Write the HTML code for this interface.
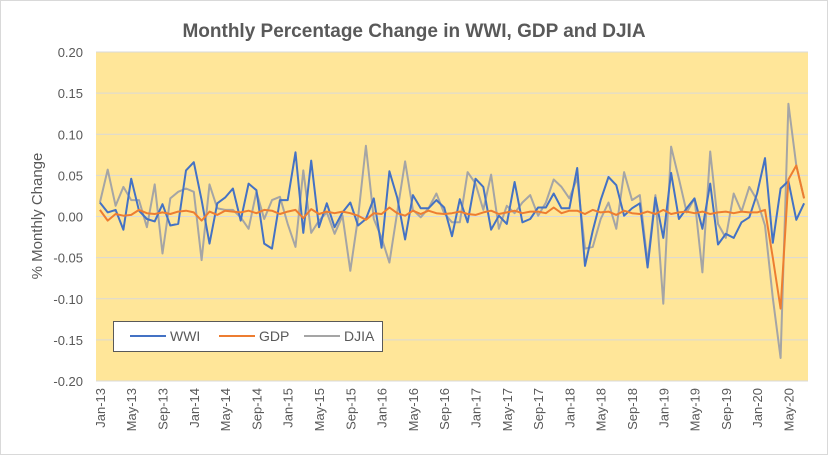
<!DOCTYPE html>
<html><head><meta charset="utf-8"><style>
body{margin:0;background:#fff;}
svg{display:block;font-family:"Liberation Sans",sans-serif;}
</style></head><body>
<svg id="chart" width="828" height="455">
<rect x="0.5" y="0.5" width="827" height="454" fill="#fff" stroke="#d9d9d9"/>
<text x="414" y="37" text-anchor="middle" font-size="19" font-weight="bold" fill="#595959">Monthly Percentage Change in WWI, GDP and DJIA</text>
<rect x="96" y="52" width="712" height="329" fill="#FFE699"/>
<g id="grid"></g><g id="yticks"></g><g id="xticks"></g><g id="series"></g>
<text transform="translate(42,216) rotate(-90)" text-anchor="middle" font-size="15" fill="#595959">% Monthly Change</text>
<g>
<rect x="113.5" y="321.5" width="269" height="30" fill="#fff" stroke="#595959"/>
<line x1="130" y1="336" x2="166" y2="336" stroke="#4472C4" stroke-width="2"/>
<text x="170" y="341" font-size="14" fill="#595959">WWI</text>
<line x1="219" y1="336" x2="255" y2="336" stroke="#ED7D31" stroke-width="2"/>
<text x="259" y="341" font-size="14" fill="#595959">GDP</text>
<line x1="304" y1="336" x2="340" y2="336" stroke="#A5A5A5" stroke-width="2"/>
<text x="344" y="341" font-size="14" fill="#595959">DJIA</text>
</g>
</svg>
<script>
const yTicks=[0.20,0.15,0.10,0.05,0.00,-0.05,-0.10,-0.15,-0.20];
const monthNames=["Jan","Feb","Mar","Apr","May","Jun","Jul","Aug","Sep","Oct","Nov","Dec"];
const wwi=[0.017,0.005,0.008,-0.016,0.046,0.007,-0.003,-0.006,0.015,-0.011,-0.009,0.056,0.066,0.02,-0.033,0.016,0.023,0.034,-0.005,0.040,0.032,-0.033,-0.039,0.020,0.020,0.078,-0.020,0.068,-0.013,0.016,-0.013,0.005,0.017,-0.011,-0.003,0.022,-0.038,0.055,0.023,-0.028,0.026,0.010,0.010,0.020,0.011,-0.024,0.021,-0.007,0.046,0.036,-0.016,0.001,-0.009,0.042,-0.007,-0.003,0.011,0.011,0.028,0.010,0.010,0.059,-0.060,-0.017,0.020,0.048,0.038,0.001,0.010,0.016,-0.062,0.023,-0.026,0.053,-0.003,0.010,0.022,-0.015,0.040,-0.034,-0.021,-0.026,-0.007,-0.001,0.028,0.071,-0.032,0.034,0.043,-0.004,0.016];
const gdp=[0.008,-0.005,0.003,0.001,0.002,0.008,0.004,0.003,0.005,0.003,0.006,0.007,0.005,-0.005,0.006,0.002,0.007,0.006,0.005,0.007,0.004,0.008,0.007,0.003,0.006,0.008,-0.002,0.009,0.003,0.006,0.004,0.006,0.004,0.001,-0.004,0.004,0.003,0.011,0.004,0.001,0.007,0.003,0.007,0.004,0.003,0.004,0.006,0.003,0.002,0.005,0.007,0.003,0.005,0.007,0.004,0.006,0.006,0.004,0.011,0.004,0.007,0.007,0.003,0.008,0.005,0.006,0.002,0.007,0.004,0.003,0.006,0.003,0.008,0.003,0.005,0.006,0.004,0.006,0.003,0.005,0.006,0.004,0.006,0.005,0.005,0.008,-0.050,-0.112,0.045,0.062,0.022];
const djia=[0.017,0.057,0.013,0.036,0.020,0.020,-0.013,0.039,-0.045,0.022,0.030,0.034,0.030,-0.053,0.039,0.010,0.008,0.008,-0.001,-0.015,0.030,-0.003,0.020,0.024,-0.009,-0.037,0.056,-0.020,-0.005,0.005,-0.021,0.001,-0.066,-0.001,0.086,-0.003,-0.026,-0.056,0.005,0.067,0.008,-0.001,0.010,0.028,0.004,-0.007,-0.007,0.054,0.040,0.008,0.051,-0.015,0.013,0.004,0.017,0.026,0.001,0.017,0.045,0.036,0.022,0.047,-0.039,-0.037,-0.003,0.017,-0.015,0.054,0.020,0.026,-0.056,0.026,-0.106,0.085,0.046,0.005,0.022,-0.068,0.079,-0.009,-0.026,0.028,0.006,0.036,0.020,-0.011,-0.099,-0.172,0.137,0.062,0.022];
const NS="http://www.w3.org/2000/svg";
const X0=96,W=712,Y0=52,H=329,ymax=0.2,ymin=-0.2;
const n=wwi.length;
function xs(i){return X0+(i+0.5)*W/n;}
function ys(v){return Y0+(ymax-v)/(ymax-ymin)*H;}
function mk(tag,attrs,parent){const e=document.createElementNS(NS,tag);for(const k in attrs)e.setAttribute(k,attrs[k]);parent.appendChild(e);return e;}
const grid=document.getElementById('grid'),yt=document.getElementById('yticks'),xt=document.getElementById('xticks'),sg=document.getElementById('series');
yTicks.forEach(v=>{
  const l=mk('line',{x1:X0,x2:X0+W,y1:ys(v),y2:ys(v),stroke:'#d9d9d9','stroke-width':1},grid);
  
  
  const t=mk('text',{x:83,y:ys(v)+5,'text-anchor':'end','font-size':13,fill:'#595959'},yt);
  t.textContent=v.toFixed(2);
  
  
});
for(let i=0;i<n;i+=4){
  const m=i%12,yr=13+Math.floor(i/12);
  const t=mk('text',{transform:`translate(${xs(i)+5},388) rotate(-90)`,'text-anchor':'end','font-size':13,fill:'#595959'},xt);
  t.textContent=monthNames[m]+'-'+yr;
  
  
}
function line(data,color,name){
  const p=mk('polyline',{points:data.map((v,i)=>xs(i).toFixed(1)+','+ys(v).toFixed(1)).join(' '),fill:'none',stroke:color,'stroke-width':2,'stroke-linejoin':'round'},sg);
  
  
}
line(djia,'#A5A5A5','djia-line');
line(gdp,'#ED7D31','gdp-line');
line(wwi,'#4472C4','wwi-line');
sg.appendChild(sg.children[1]);
</script>
</body></html>
